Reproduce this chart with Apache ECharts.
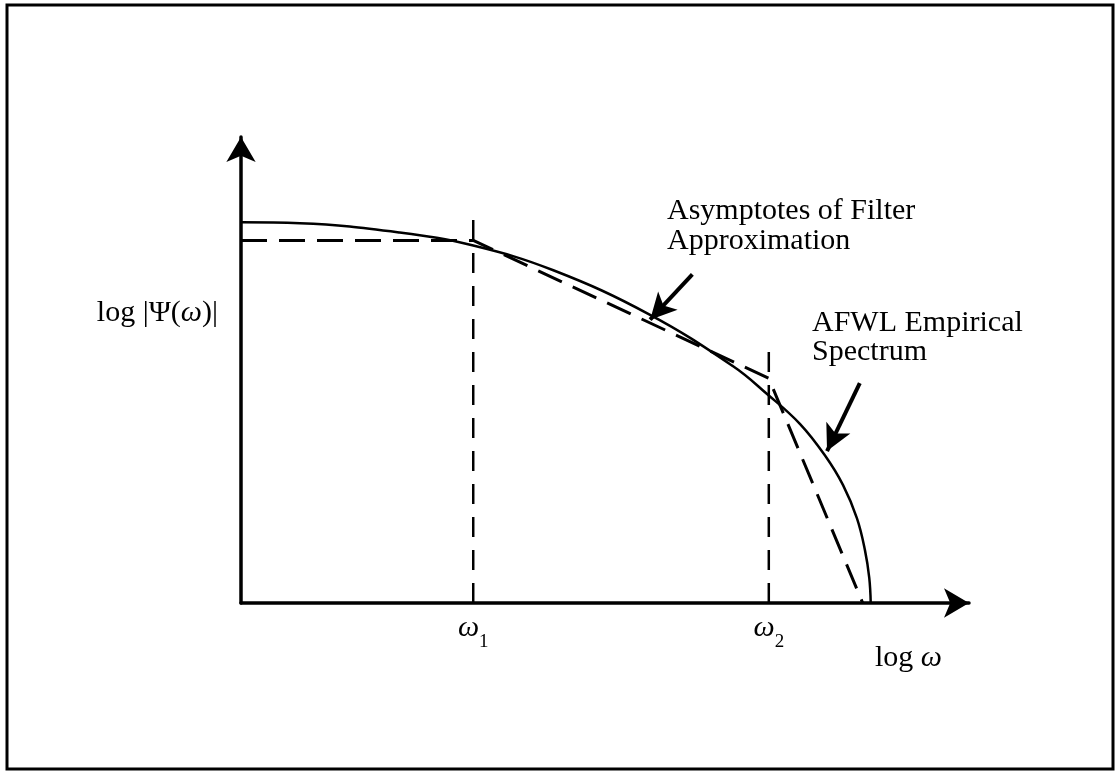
<!DOCTYPE html>
<html>
<head>
<meta charset="utf-8">
<title>AFWL spectrum and filter asymptotes</title>
<script src="https://cdn.jsdelivr.net/npm/echarts@6/dist/echarts.min.js"></script>
<style>
  html, body { margin: 0; padding: 0; background: #fff; }
  #chart { width: 1120px; height: 771px; }
</style>
</head>
<body>
<div id="chart"></div>
<script>
// sketch in arbitrary log units, both axes run 0..10
const empirical = [
  [0, 8.17], [0.81, 8.15], [2.18, 7.95], [3.19, 7.67], [4.29, 7.14],
  [5.6, 6.2], [6.76, 5.08], [7.23, 4.48], [7.68, 3.84], [8.02, 3.17],
  [8.27, 2.53], [8.46, 1.82], [8.57, 1.14], [8.63, 0.54], [8.65, 0]
];
const asymptotes = [[0, 7.78], [3.19, 7.78], [7.25, 4.82], [8.54, 0]];
const breakFreqs = [3.19, 7.25];
const breakTops = [8.36, 5.64];
const breakNames = ['1', '2'];
const pointerFilter = [[6.2, 7.05], [5.62, 6.08]];
const pointerAfwl = [[8.5, 4.72], [8.05, 3.26]];

const serif = '"Liberation Serif", "DejaVu Serif", serif';

const chart = echarts.init(document.getElementById('chart'));

const breakSeries = breakFreqs.map((x, i) => ({
  type: 'line',
  data: [[x, 0], [x, breakTops[i]]],
  showSymbol: false,
  silent: true,
  lineStyle: { color: '#000', width: 2.5, type: [20, 13] },
  z: 1
}));

// which break frequency a custom tick belongs to
function breakIndex(v) {
  let best = 0;
  breakFreqs.forEach((f, i) => {
    if (Math.abs(f - v) < Math.abs(breakFreqs[best] - v)) best = i;
  });
  return best;
}

const option = {
  animation: false,
  backgroundColor: '#fff',
  grid: { left: 241, top: 137, right: 151, bottom: 168 },
  xAxis: {
    type: 'value',
    min: 0,
    max: 10,
    splitLine: { show: false },
    axisTick: { show: false },
    axisLine: {
      onZero: true,
      symbol: ['none', 'arrow'],
      symbolSize: [22, 25],
      lineStyle: { color: '#000', width: 3.5 }
    },
    axisLabel: {
      customValues: breakFreqs,
      margin: 10,
      formatter: (v) => '{w|ω}{s|' + breakNames[breakIndex(v)] + '}',
      rich: {
        w: { fontFamily: serif, fontSize: 30, fontStyle: 'italic', color: '#000', padding: [0, 0, 9, 0], verticalAlign: 'bottom' },
        s: { fontFamily: serif, fontSize: 19, color: '#000', verticalAlign: 'bottom' }
      }
    }
  },
  yAxis: {
    type: 'value',
    min: 0,
    max: 10,
    splitLine: { show: false },
    axisTick: { show: false },
    axisLabel: { show: false },
    axisLine: {
      symbol: ['none', 'arrow'],
      symbolSize: [22, 25],
      lineStyle: { color: '#000', width: 3.5 }
    }
  },
  graphic: [
    {
      type: 'rect',
      shape: { x: 7, y: 5, width: 1106, height: 764 },
      style: { fill: 'none', stroke: '#000', lineWidth: 3 },
      silent: true
    },
    {
      type: 'text',
      x: 218, y: 313,
      style: {
        text: '{n|log |Ψ(}{i|ω}{n|)|}',
        align: 'right',
        verticalAlign: 'middle',
        rich: {
          n: { fontFamily: serif, fontSize: 30, fill: '#000' },
          i: { fontFamily: serif, fontSize: 30, fontStyle: 'italic', fill: '#000' }
        }
      }
    },
    {
      type: 'text',
      x: 875, y: 658,
      style: {
        text: '{n|log }{i|ω}',
        align: 'left',
        verticalAlign: 'middle',
        rich: {
          n: { fontFamily: serif, fontSize: 30, fill: '#000' },
          i: { fontFamily: serif, fontSize: 30, fontStyle: 'italic', fill: '#000' }
        }
      }
    },
    {
      type: 'text',
      x: 667, y: 196,
      style: {
        text: 'Asymptotes of Filter\nApproximation',
        font: '30px ' + serif,
        lineHeight: 30,
        fill: '#000',
        align: 'left',
        verticalAlign: 'top'
      }
    },
    {
      type: 'text',
      x: 812, y: 309,
      style: {
        text: 'AFWL Empirical\nSpectrum',
        font: '30px ' + serif,
        lineHeight: 29,
        fill: '#000',
        align: 'left',
        verticalAlign: 'top'
      }
    }
  ],
  series: [
    {
      type: 'line',
      name: 'AFWL Empirical Spectrum',
      data: empirical,
      showSymbol: false,
      smooth: 0.4,
      silent: true,
      lineStyle: { color: '#000', width: 2.5 },
      z: 3
    },
    {
      type: 'line',
      name: 'Asymptotes of Filter Approximation',
      data: asymptotes,
      showSymbol: false,
      silent: true,
      lineStyle: { color: '#000', width: 3, type: [26, 12] },
      z: 2,
      markLine: {
        silent: true,
        symbol: ['none', 'arrow'],
        symbolSize: [20, 26],
        label: { show: false },
        lineStyle: { color: '#000', width: 4, type: 'solid' },
        data: [
          [{ coord: pointerFilter[0] }, { coord: pointerFilter[1] }],
          [{ coord: pointerAfwl[0] }, { coord: pointerAfwl[1] }]
        ]
      }
    },
    ...breakSeries
  ]
};

chart.setOption(option);
</script>
</body>
</html>
